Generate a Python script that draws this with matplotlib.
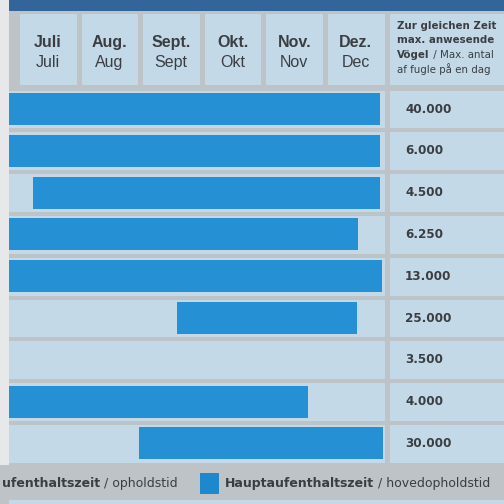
import numpy as np
import matplotlib.pyplot as plt
from matplotlib.patches import Rectangle

plt.rcParams['font.family'] = ['DejaVu Sans']

# months shown in the header (German / Danish)
months_de = ["Juli", "Aug.", "Sept.", "Okt.", "Nov.", "Dez."]
months_da = ["Juli", "Aug", "Sept", "Okt", "Nov", "Dec"]

# stay period per row, in months from 1 July (start < 0 = begins before July)
bar_start = [-1.0, -1.0, 0.26, -1.0, -1.0, 2.6, np.nan, -1.0, 1.98]
bar_end = [5.9, 5.9, 5.9, 5.54, 5.93, 5.52, np.nan, 4.72, 5.94]
max_birds = ["40.000", "6.000", "4.500", "6.250", "13.000",
             "25.000", "3.500", "4.000", "30.000"]

grey = "#bec3c7"
cell = "#c4d9e8"
bar_col = "#2690d4"
text_col = "#3a3e42"

fig = plt.figure(figsize=(7, 7), dpi=72, facecolor=grey)
ax = fig.add_axes([0, 0, 1, 1])
ax.set_facecolor(grey)
ax.set_xlim(-17 / 61.6, 487 / 61.6)
ax.set_ylim(395 / 41.8, -109 / 41.8)
ax.axis("off")

# dark band on top
ax.add_patch(Rectangle((-0.13, -2.7), 8.2, 0.33, color="#33659a", zorder=1))

# header cells
for i, (de, da) in enumerate(zip(months_de, months_da)):
    ax.add_patch(Rectangle((i + 0.05, -2.27), 0.9, 1.67, color=cell, zorder=1))
    ax.text(i + 0.5, -1.6, de, ha="center", va="center", fontsize=16,
            fontweight="bold", color=text_col, family="Liberation Sans", zorder=3)
    ax.text(i + 0.5, -1.12, da, ha="center", va="center", fontsize=16,
            color=text_col, family="Liberation Sans", zorder=3)
ax.add_patch(Rectangle((6.05, -2.27), 2.0, 1.67, color=cell, zorder=1))
hdr = [("Zur gleichen Zeit", "bold"), ("max. anwesende", "bold")]
for k, (s, w) in enumerate(hdr):
    ax.text(6.17, -1.99 + k * 0.345, s, ha="left", va="center", fontsize=10.3,
            fontweight=w, color=text_col, zorder=3)
t = ax.text(6.17, -1.30, "Vögel", ha="left", va="center", fontsize=10.3,
            fontweight="bold", color=text_col, zorder=3)
ax.annotate(" / Max. antal", xycoords=t, xy=(1, 0.5), va="center",
            fontsize=10.3, color=text_col, zorder=3)
ax.text(6.17, -0.96, "af fugle på en dag", ha="left", va="center",
        fontsize=10.3, color=text_col, zorder=3)

# body rows
for r in range(len(max_birds)):
    ax.add_patch(Rectangle((-0.13, r - 0.44), 6.09, 0.88, color=cell, zorder=1))
    ax.add_patch(Rectangle((6.05, r - 0.44), 2.0, 0.88, color=cell, zorder=1))
    ax.text(6.3, r, max_birds[r], ha="left", va="center", fontsize=12,
            fontweight="bold", color=text_col, zorder=3)

rows = np.arange(len(max_birds))
ax.barh(rows, np.array(bar_end) - np.array(bar_start), left=bar_start,
        height=0.77, color=bar_col, zorder=2)

# legend strip
ax.add_patch(Rectangle((-0.13, 9.35), 8.2, 0.5, color=cell, zorder=1))
t = ax.text(-0.25, 8.95, "ufenthaltszeit", ha="left", va="center",
            fontsize=12.5, fontweight="bold", color=text_col, zorder=5)
ax.annotate(" / opholdstid", xycoords=t, xy=(1, 0.5), va="center",
            fontsize=12.5, color=text_col, zorder=5)
ax.add_patch(Rectangle((2.97, 8.72), 0.3, 0.47, color="#1e88cc", zorder=2))
t = ax.text(3.38, 8.95, "Hauptaufenthaltszeit", ha="left", va="center",
            fontsize=12.5, fontweight="bold", color=text_col, zorder=3)
ax.annotate(" / hovedopholdstid", xycoords=t, xy=(1, 0.5), va="center",
            fontsize=12.5, color=text_col, zorder=3)

# light frame edge on the left (body only)
ax.add_patch(Rectangle((-0.3, -3), 0.15, 11.5, color="#e6e8ea", zorder=4))

fig.savefig("out.png", dpi=72, facecolor=grey)
